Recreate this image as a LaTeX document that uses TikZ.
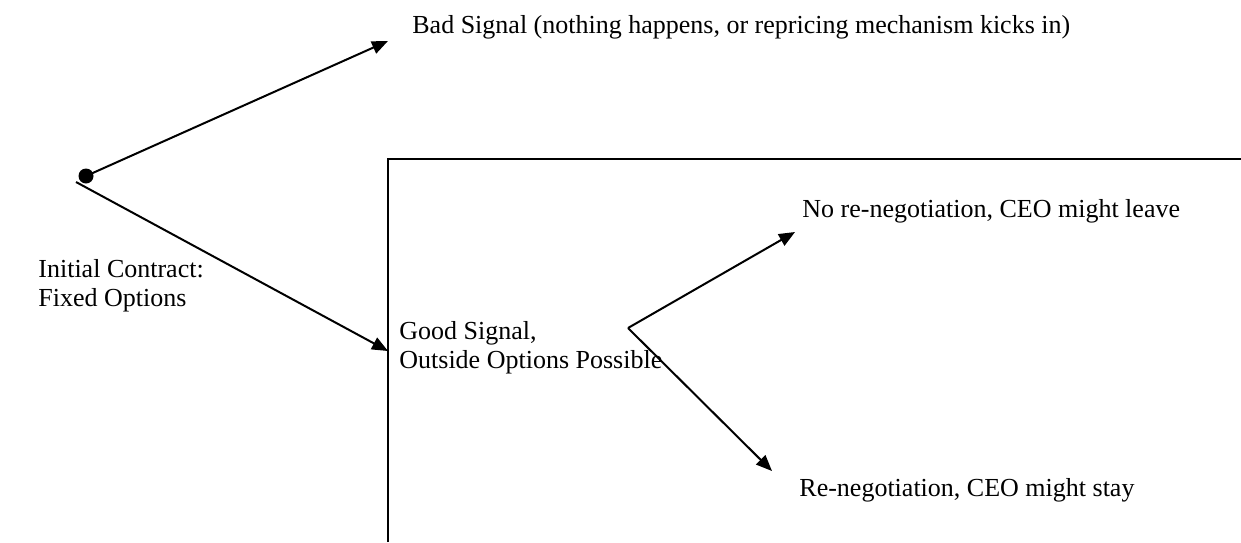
\documentclass[tikz,border=0pt]{standalone}
\usepackage{fontspec}
\setmainfont{Liberation Serif}
\usetikzlibrary{arrows.meta}
\tikzset{
  line/.style={line width=1pt, black},
  arr/.style={line, -{Triangle[length=8pt,width=6.5pt]}},
  label/.style={anchor=base west, inner sep=0pt, font=\fontsize{13}{15.5}\selectfont},
  rootdot/.style={circle, fill=black, minimum size=7.5pt, inner sep=0pt}
}
\begin{document}
\begin{tikzpicture}[x=0.5pt,y=-0.5pt]
  \useasboundingbox (0,0) rectangle (1241,542);

  % decision points and arrow ends
  \node[rootdot] (root) at (86,176) {};
  \coordinate (rootlow) at (76,182);
  \coordinate (badtip) at (388,41);
  \coordinate (goodtip) at (388,351);
  \coordinate (branch) at (628,328);
  \coordinate (leavetip) at (795,232);
  \coordinate (staytip) at (772,471);

  % frame around the good-signal subtree
  \coordinate (frameb) at (388,542);
  \coordinate (framec) at (388,159);
  \coordinate (framer) at (1241,159);
  \draw[line] (frameb) -- (framec) -- (framer);

  % branches
  \draw[arr] (root.center) -- (badtip);
  \draw[arr] (rootlow) -- (goodtip);
  \draw[arr] (branch) -- (leavetip);
  \draw[arr] (branch) -- (staytip);

  % texts
  \node[label] (bad) at (412,33) {Bad Signal (nothing happens, or repricing mechanism kicks in)};
  \node[label] (init1) at (38,277) {Initial Contract:};
  \node[label] (init2) at (38,306) {Fixed Options};
  \node[label] (good1) at (399,339) {Good Signal,};
  \node[label] (good2) at (399,368) {Outside Options Possible};
  \node[label] (leave) at (802,217) {No re-negotiation, CEO might leave};
  \node[label] (stay) at (799,496) {Re-negotiation, CEO might stay};
\end{tikzpicture}
\end{document}
